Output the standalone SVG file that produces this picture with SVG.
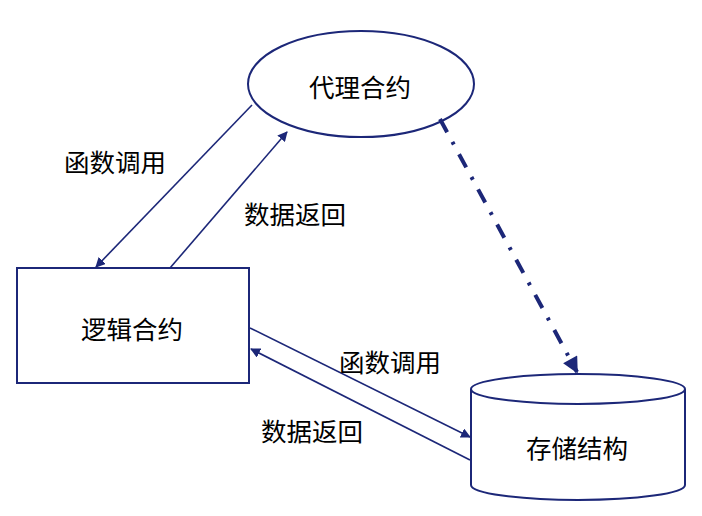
<svg xmlns="http://www.w3.org/2000/svg" width="702" height="516" viewBox="0 0 702 516">
<style>
.shape{fill:#fff;stroke:#1c2778;stroke-width:2}
.conn{stroke:#1c2778;stroke-width:1.6;fill:none}
.dd{stroke:#1c2778;stroke-width:4;fill:none;stroke-dasharray:15 11 3 11}
text{font-family:"Noto Sans CJK SC","Liberation Sans",sans-serif;font-size:25.5px;fill:#000;text-anchor:middle;dominant-baseline:central}
</style>
<defs>
<marker id="a" viewBox="0 0 10 10" refX="9" refY="5" markerWidth="10" markerHeight="10" markerUnits="userSpaceOnUse" orient="auto">
<path d="M0,0 L10,5 L0,10 z" fill="#1c2778"/>
</marker>
<marker id="b" viewBox="0 0 10 10" refX="9" refY="5" markerWidth="4.5" markerHeight="4" orient="auto">
<path d="M0,0 L10,5 L0,10 z" fill="#1c2778"/>
</marker>
</defs>
<rect width="702" height="516" fill="#fff"/>
<g id="proxy">
<ellipse class="shape" cx="361" cy="84" rx="113" ry="53"/>
<text x="360" y="85">代理合约</text>
</g>
<g id="logic">
<rect class="shape" x="17" y="268" width="232" height="115"/>
<text x="132" y="327">逻辑合约</text>
</g>
<g id="storage">
<path class="shape" d="M471,389 L471,485 A107,15 0 0 0 685,485 L685,389"/>
<ellipse class="shape" cx="578" cy="389" rx="107" ry="15"/>
<text x="577" y="446">存储结构</text>
</g>
<g id="connectors">
<line class="conn" x1="252" y1="105" x2="96" y2="267" marker-end="url(#a)"/>
<line class="conn" x1="170" y1="268" x2="287" y2="132" marker-end="url(#a)"/>
<line class="conn" x1="250" y1="328" x2="470" y2="437" marker-end="url(#a)"/>
<line class="conn" x1="470" y1="460" x2="251" y2="349" marker-end="url(#a)"/>
<line class="dd" x1="440" y1="119" x2="577" y2="372" marker-end="url(#b)"/>
</g>
<g id="labels">
<text x="115" y="160">函数调用</text>
<text x="295" y="212">数据返回</text>
<text x="390" y="360">函数调用</text>
<text x="312" y="429">数据返回</text>
</g>
</svg>
